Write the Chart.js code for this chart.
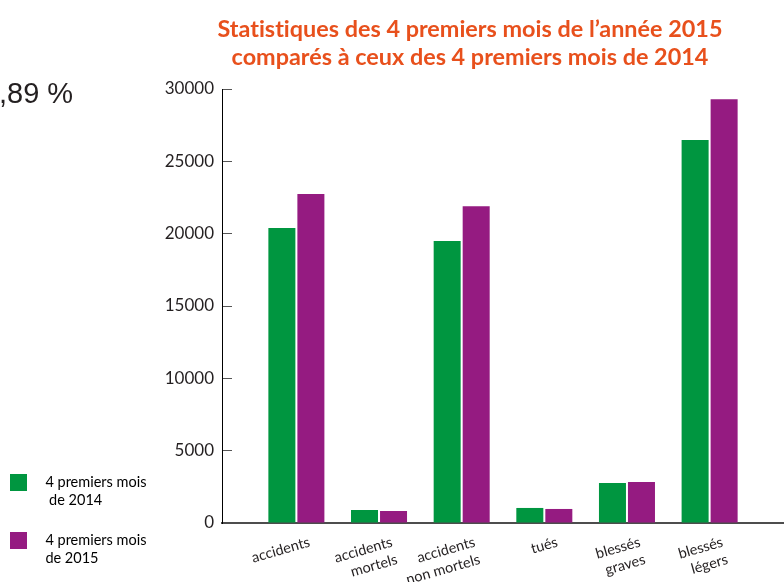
<!DOCTYPE html>
<html>
<head>
<meta charset="utf-8">
<script src="https://cdn.jsdelivr.net/npm/chart.js@4.4.1/dist/chart.umd.min.js"></script>
<style>
html,body{margin:0;padding:0;background:#fff;}
#wrap{position:relative;width:784px;height:582px;overflow:hidden;}
#title{position:absolute;left:0;top:14px;width:940px;text-align:center;font-family:Lato,sans-serif;font-weight:700;font-size:23.4px;line-height:28px;color:#E8501C;white-space:nowrap;font-variant-ligatures:none;font-feature-settings:"liga" 0;}
#note{position:absolute;left:-1px;top:79px;font-family:"Liberation Sans",Arial,sans-serif;font-size:29px;line-height:29px;color:#231F20;white-space:nowrap;}
canvas{position:absolute;left:0;top:0;}
</style>
</head>
<body>
<div id="wrap">
  <canvas id="c" width="784" height="582"></canvas>
  <div id="title">Statistiques des 4 premiers mois de l’année 2015<br>comparés à ceux des 4 premiers mois de 2014</div>
  <div id="note">,89 %</div>
</div>
<script>
// ---- data ----
const categories = [["accidents"], ["accidents", "mortels"], ["accidents", "non mortels"], ["tués"], ["blessés", "graves"], ["blessés", "légers"]];
const series2014 = [20400, 900, 19500, 1040, 2770, 26470];
const series2015 = [22750, 830, 21900, 970, 2830, 29300];
const seriesLabels = [["   4 premiers mois", "    de 2014"], ["   4 premiers mois", "   de 2015"]];
const yTicks = [0, 5000, 10000, 15000, 20000, 25000, 30000];
const seriesColors = ["#009640", "#951B81"];

const padLeft = -12;
const ctx = document.getElementById('c').getContext('2d');
new Chart(ctx, {
  type: 'bar',
  data: {
    datasets: [
      { label: seriesLabels[0].join(' '), data: series2014.map((v, i) => ({ x: i, y: v })), backgroundColor: seriesColors[0] },
      { label: seriesLabels[1].join(' '), data: series2015.map((v, i) => ({ x: i, y: v })), backgroundColor: seriesColors[1] }
    ]
  },
  options: {
    responsive: false,
    animation: false,
    layout: { padding: { top: 89, right: 0, bottom: -8, left: padLeft } },
    datasets: { bar: { categoryPercentage: 0.702, barPercentage: 0.931 } },
    plugins: {
      tooltip: { enabled: false },
      title: { display: false },
      legend: {
        position: 'left',
        align: 'end',
        labels: {
          boxWidth: 17,
          boxHeight: 17,
          padding: 22,
          color: '#231F20',
          font: { family: 'Lato', size: 14.5, lineHeight: 1.24 },
          generateLabels: (chart) => chart.data.datasets.map((d, i) => ({
            text: seriesLabels[i],
            fillStyle: d.backgroundColor,
            strokeStyle: d.backgroundColor,
            lineWidth: 0,
            hidden: false,
            datasetIndex: i
          }))
        }
      }
    },
    scales: {
      x: {
        type: 'linear',
        min: -0.9,
        max: 5.9,
        offset: false,
        afterBuildTicks: (s) => { s.ticks = categories.map((_, i) => ({ value: i })); },
        grid: { display: false, drawTicks: false },
        border: { display: true, color: '#4d4d4d', width: 2 },
        ticks: {
          callback: (v) => categories[v],
          autoSkip: false,
          minRotation: 16,
          maxRotation: 16,
          padding: 10,
          labelOffset: 13,
          color: '#231F20',
          font: { family: 'Lato', size: 14.5, lineHeight: 1.25 }
        },
        afterFit: (s) => { s.height = 67; }
      },
      y: {
        min: 0,
        max: 30000,
        afterBuildTicks: (s) => { s.ticks = yTicks.map(v => ({ value: v })); },
        ticks: { callback: (v) => String(v), padding: 18, color: '#231F20', font: { family: 'Lato', size: 17 } },
        grid: { drawOnChartArea: false, drawTicks: true, tickLength: -10, color: '#555' },
        border: { display: true, color: '#000', width: 1 },
        afterFit: (s) => { s.width = 222 - padLeft - (s.chart.legend ? s.chart.legend.width : 0); }
      }
    }
  }
});
</script>
</body>
</html>
